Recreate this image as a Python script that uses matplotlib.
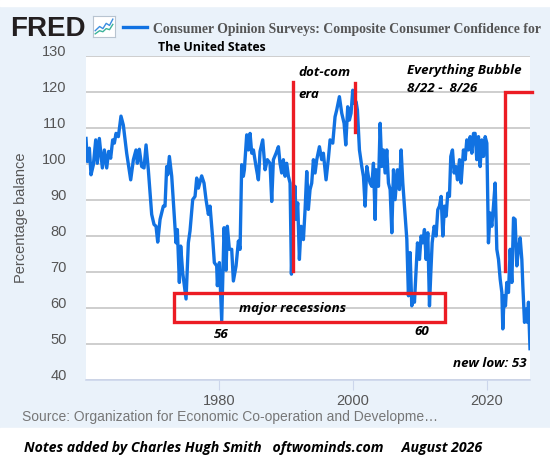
import matplotlib.pyplot as plt
from matplotlib.patches import Rectangle
from matplotlib.lines import Line2D
from matplotlib.transforms import ScaledTranslation

# values (decimal year, percentage balance)
years = [
    1960.15, 1960.35, 1960.65, 1960.9, 1961.25, 1961.6, 1961.84, 1962.14, 1962.59, 1962.89,
    1963.24, 1963.53, 1963.83, 1964.13, 1964.38, 1964.63, 1964.98, 1965.37, 1965.72, 1966.22,
    1966.82, 1967.22, 1967.61, 1967.81, 1968.11, 1968.46, 1968.81, 1969.11, 1969.45, 1969.95,
    1970.3, 1970.6, 1970.85, 1971.2, 1971.69, 1971.94, 1972.19, 1972.34, 1972.59, 1972.94,
    1973.29, 1973.58, 1973.78, 1974.08, 1974.28, 1974.58, 1975.08, 1975.42, 1975.67, 1976.07,
    1976.42, 1976.67, 1976.92, 1977.41, 1977.76, 1978.06, 1978.41, 1978.66, 1979.06, 1979.3,
    1979.65, 1979.75, 1980.05, 1980.4, 1980.75, 1981.05, 1981.24, 1981.54, 1981.89, 1982.14,
    1982.54, 1982.89, 1983.14, 1983.38, 1983.63, 1983.78, 1984.13, 1984.38, 1984.63, 1984.88,
    1985.13, 1985.52, 1985.87, 1986.12, 1986.52, 1986.87, 1987.21, 1987.61, 1987.86, 1988.11,
    1988.51, 1988.86, 1989.1, 1989.35, 1989.6, 1989.85, 1990.1, 1990.35, 1990.6, 1990.8,
    1991.1, 1991.34, 1991.49, 1991.74, 1991.99, 1992.24, 1992.59, 1992.84, 1993.09, 1993.33,
    1993.58, 1993.83, 1994.08, 1994.33, 1994.58, 1994.98, 1995.32, 1995.57, 1995.97, 1996.32,
    1996.57, 1996.97, 1997.31, 1997.56, 1997.96, 1998.31, 1998.66, 1998.91, 1999.2, 1999.45,
    1999.7, 1999.95, 2000.2, 2000.45, 2000.65, 2000.95, 2001.3, 2001.55, 2001.8, 2002.05,
    2002.29, 2002.54, 2002.79, 2003.04, 2003.29, 2003.44, 2003.79, 2004.04, 2004.28, 2004.53,
    2004.78, 2005.03, 2005.28, 2005.53, 2005.78, 2006.03, 2006.27, 2006.62, 2006.92, 2007.17,
    2007.42, 2007.77, 2008.02, 2008.26, 2008.51, 2008.76, 2009.01, 2009.16, 2009.41, 2009.61,
    2009.91, 2010.15, 2010.4, 2010.65, 2010.9, 2011.15, 2011.4, 2011.6, 2011.8, 2012.1,
    2012.39, 2012.64, 2012.89, 2013.14, 2013.39, 2013.64, 2013.89, 2014.13, 2014.38, 2014.58,
    2014.83, 2015.08, 2015.33, 2015.58, 2015.88, 2016.12, 2016.47, 2016.72, 2016.97, 2017.22,
    2017.47, 2017.72, 2017.97, 2018.21, 2018.46, 2018.71, 2018.96, 2019.21, 2019.46, 2019.71,
    2019.96, 2020.2, 2020.45, 2020.7, 2020.95, 2021.2, 2021.45, 2021.7, 2021.95, 2022.2,
    2022.34, 2022.54, 2022.74, 2022.94, 2023.19, 2023.44, 2023.69, 2023.94, 2024.18, 2024.43,
    2024.68, 2024.93, 2025.18, 2025.33, 2025.58, 2025.83, 2026.02, 2026.17, 2026.4,
]
values = [
    107.1, 100.7, 104.4, 97.0, 99.8, 106.7, 100.2, 107.1, 98.9, 103.9,
    98.9, 103.5, 101.6, 106.7, 105.8, 108.5, 107.6, 113.3, 110.8, 103.0,
    95.6, 101.2, 103.9, 100.2, 104.1, 99.3, 98.9, 105.3, 98.4, 86.0,
    83.2, 82.7, 78.3, 84.6, 88.3, 88.3, 99.3, 97.0, 102.1, 96.6,
    86.4, 78.1, 81.8, 67.1, 77.2, 69.8, 62.5, 78.1, 81.4, 90.1,
    91.0, 96.1, 93.3, 96.7, 94.7, 90.1, 86.0, 88.3, 79.1, 72.6,
    71.7, 66.2, 72.6, 56.5, 82.3, 70.5, 82.7, 76.3, 76.3, 67.5,
    71.7, 78.6, 76.3, 99.8, 96.6, 98.4, 108.1, 103.9, 108.5, 103.0,
    103.9, 99.3, 95.6, 103.5, 106.7, 98.4, 101.2, 100.2, 89.6, 101.2,
    103.0, 104.8, 100.2, 97.5, 101.2, 96.6, 100.2, 96.6, 94.7, 69.4,
    88.3, 93.8, 84.6, 89.2, 73.5, 82.7, 79.0, 87.4, 97.9, 87.4,
    92.9, 94.7, 101.2, 97.5, 101.2, 104.8, 101.2, 103.0, 95.6, 101.6,
    106.7, 105.8, 113.1, 115.0, 118.7, 114.1, 111.3, 105.3, 115.9, 112.2,
    114.1, 120.5, 116.8, 117.3, 115.0, 103.9, 99.3, 96.5, 88.3, 99.3,
    96.5, 94.7, 93.8, 100.2, 84.6, 98.4, 93.8, 111.3, 99.3, 103.9,
    97.5, 103.9, 94.7, 92.9, 80.9, 98.4, 90.1, 98.4, 92.9, 103.9,
    94.7, 85.5, 79.1, 63.4, 75.4, 60.6, 63.4, 61.6, 70.8, 78.1,
    73.5, 80.0, 78.1, 81.8, 73.5, 80.9, 60.6, 69.8, 78.1, 82.7,
    80.0, 87.3, 88.3, 91.0, 80.0, 88.3, 85.5, 91.9, 91.0, 102.1,
    103.9, 97.5, 99.3, 95.6, 101.2, 94.7, 103.9, 101.2, 106.7, 103.9,
    107.6, 103.0, 108.5, 108.5, 101.2, 107.6, 99.3, 106.7, 102.1, 107.6,
    105.8, 78.1, 86.4, 82.7, 88.3, 94.7, 76.3, 73.5, 68.0, 64.3,
    54.2, 63.4, 60.6, 67.1, 64.3, 76.3, 67.1, 85.0, 84.6, 71.7,
    76.3, 79.5, 73.5, 66.2, 56.0, 59.7, 56.0, 61.6, 48.7,
]

y_ticks = [40, 50, 60, 70, 80, 90, 100, 110, 120, 130]
x_ticks = [1980, 2000, 2020]

title_1 = "Consumer Opinion Surveys: Composite Consumer Confidence for"
title_2 = "The United States"
y_label = "Percentage balance"
source = "Source: Organization for Economic Co-operation and Developme\u2026"
notes = "Notes added by Charles Hugh Smith   oftwominds.com     August 2026"

# hand-drawn notes on the chart (data coordinates)
dotcom_lines = [(1991.0, 70.3, 122.7), (2000.3, 109.0, 122.4)]
bubble_x, bubble_bottom, bubble_top, bubble_right = 2022.69, 70.3, 120.0, 2026.7
recession_box = (1973.28, 56.2, 2013.73, 64.3)
notes_on_chart = [
    ("major recessions", 1990.9, 58.8, "center"),
    ("56", 1980.3, 51.6, "center"),
    ("60", 2010.3, 52.4, "center"),
    ("new low: 53", 2025.97, 43.6, "right"),
    ("dot-com", 1991.8, 124.5, "left"),
    ("era", 1991.8, 118.4, "left"),
    ("Everything Bubble", 2008.06, 125.1, "left"),
    ("8/22 -  8/26", 2008.06, 120.0, "left"),
]

W, H = 550, 469
bg = "#EAF2FA"
blue = "#1172E2"
red = "#EC1C24"
hand_font = ["Open Sans", "DejaVu Sans"]

fig = plt.figure(figsize=(5.5, 4.69), dpi=100, facecolor=bg)
fig.add_artist(Rectangle((0, 1 - 6 / H), 1, 6 / H, transform=fig.transFigure, color="white", zorder=0))
fig.add_artist(Rectangle((0, 0), 1, (H - 428) / H, transform=fig.transFigure, color="white", zorder=0))

ax = fig.add_axes([86 / W, 1 - 380 / H, 444 / W, 324 / H])
ax.set_facecolor("white")
ax.plot(years, values, color=blue, lw=2.4, solid_joinstyle="round", zorder=3)
ax.set_xlim(years[0], years[-1])
ax.set_ylim(40, 130)
ax.set_yticks(y_ticks)
ax.set_xticks(x_ticks)
ax.grid(axis="y", color="#c6c6c6", lw=1.2, zorder=1)
for s in ["top", "left", "right"]:
    ax.spines[s].set_visible(False)
ax.spines["bottom"].set_color("#ccd6eb")
ax.spines["bottom"].set_linewidth(1.2)
ax.tick_params(axis="y", length=0, pad=14, labelcolor="#555555", labelsize=10.5)
ax.tick_params(axis="x", length=7, width=0.8, color="#ccd6eb", pad=3, labelcolor="#555555", labelsize=10.5)
for lab in ax.get_yticklabels() + ax.get_xticklabels():
    lab.set_family("Liberation Sans")
for lab in ax.get_yticklabels():
    lab.set_transform(lab.get_transform() + ScaledTranslation(0, 0.055, fig.dpi_scale_trans))

# red notes
for x, y0, y1 in dotcom_lines:
    ax.plot([x, x], [y0, y1], color=red, lw=2.4, clip_on=False, zorder=4)
ax.plot([bubble_x, bubble_x, bubble_right], [bubble_bottom, bubble_top, bubble_top],
        color=red, lw=2.4, clip_on=False, zorder=4, solid_joinstyle="miter")
x0, y0, x1, y1 = recession_box
ax.add_patch(Rectangle((x0, y0), x1 - x0, y1 - y0, fill=False, ec=red, lw=2.4, zorder=4))
for txt, x, y, ha in notes_on_chart:
    ax.text(x, y, txt, ha=ha, va="baseline", fontsize=9.6, weight="bold", style="italic",
            family=hand_font, color="black", zorder=5)

# header
fig.text(10 / W, 1 - 36 / H, "FRED", fontsize=20, weight="heavy", family="Liberation Sans",
         color="#231f20", va="baseline")
icon = fig.add_axes([93 / W, 1 - 37 / H, 22 / W, 21 / H])
icon.set_xlim(0, 10)
icon.set_ylim(0, 10)
icon.set_xticks([])
icon.set_yticks([])
icon.set_facecolor("white")
for s in icon.spines.values():
    s.set_color("#b8c4d0")
icon.plot([1, 3, 4.5, 6, 7.5, 9], [3, 5, 4, 6.5, 5.5, 8.5], color="#3a8de0", lw=1)
icon.plot([1, 3, 4.5, 6, 7.5, 9], [1.5, 3, 2.5, 4, 3.5, 6], color="#3bb39a", lw=1)
fig.add_artist(Line2D([123 / W, 147 / W], [1 - 27 / H, 1 - 27 / H], color=blue, lw=2.4))
fig.text(153 / W, 1 - 32.5 / H, title_1, fontsize=9.9, weight="bold", family="Liberation Serif",
         color="#555555", va="baseline")
fig.text(158 / W, 1 - 51 / H, title_2, fontsize=8.8, weight="bold", family=hand_font,
         color="black", va="baseline")

fig.text(21 / W, 1 - 218 / H, y_label, rotation=90, fontsize=10.5, family="Liberation Sans",
         color="#555555", ha="center", va="center")
fig.text(22 / W, 1 - 421.5 / H, source, fontsize=10, family="Liberation Sans",
         color="#777777", va="baseline")
fig.text(24 / W, 1 - 451.7 / H, notes, fontsize=10.15, weight="bold", style="italic",
         family=hand_font, color="black", va="baseline")

fig.savefig("out.png", dpi=100, facecolor=bg)
